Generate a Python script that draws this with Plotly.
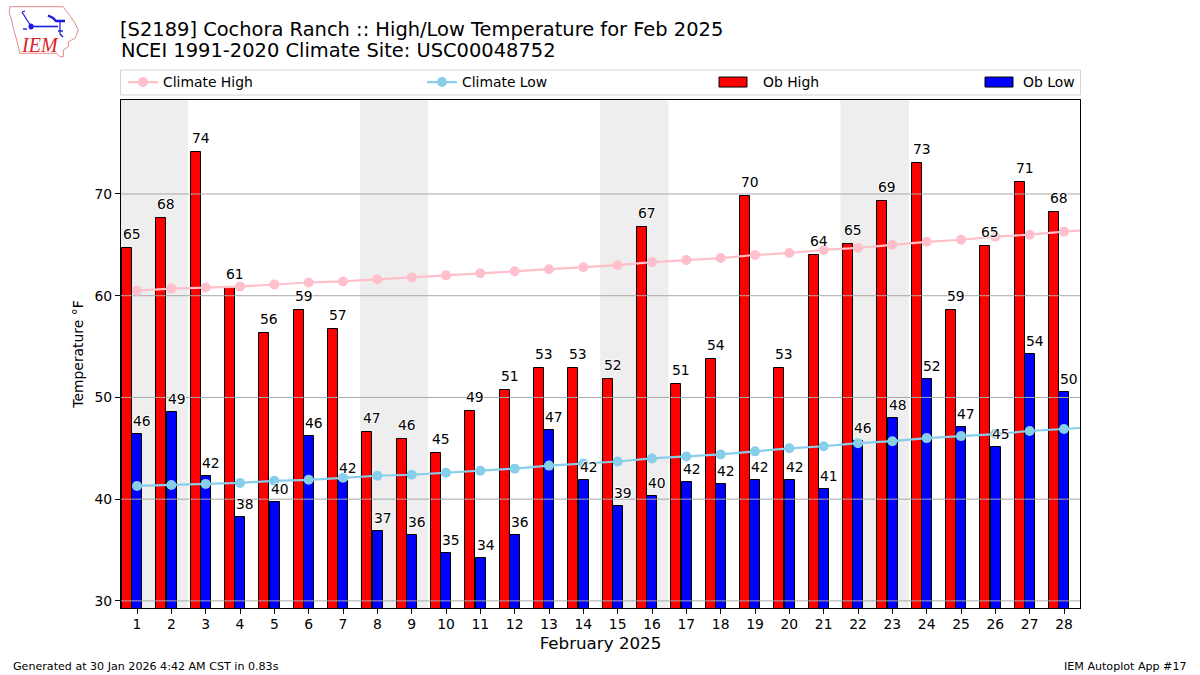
import plotly.graph_objects as go

days = list(range(1, 29))
climate_days = list(range(1, 30))
ob_high = [64.7, 67.6, 74.1, 60.8, 56.3, 58.6, 56.7, 46.6, 45.9, 44.5, 48.7, 50.7, 52.9, 52.9,
           51.8, 66.8, 51.3, 53.8, 69.8, 52.9, 64.0, 65.1, 69.3, 73.0, 58.6, 64.9, 71.2, 68.2]
ob_low = [46.4, 48.6, 42.3, 38.2, 39.7, 46.2, 41.8, 36.9, 36.5, 34.7, 34.2, 36.5, 46.8, 41.9,
          39.3, 40.3, 41.7, 41.5, 41.9, 41.9, 41.0, 45.7, 48.0, 51.8, 47.1, 45.1, 54.3, 50.5]
high_labels = [65, 68, 74, 61, 56, 59, 57, 47, 46, 45, 49, 51, 53, 53,
               52, 67, 51, 54, 70, 53, 64, 65, 69, 73, 59, 65, 71, 68]
low_labels = [46, 49, 42, 38, 40, 46, 42, 37, 36, 35, 34, 36, 47, 42,
              39, 40, 42, 42, 42, 42, 41, 46, 48, 52, 47, 45, 54, 50]
climate_high = [60.5, 60.7, 60.8, 60.9, 61.1, 61.3, 61.4, 61.6, 61.8, 62.0, 62.2, 62.4, 62.6, 62.8,
                63.0, 63.3, 63.5, 63.7, 64.0, 64.2, 64.5, 64.7, 65.0, 65.3, 65.5, 65.8, 66.0, 66.3, 66.5]
climate_low = [41.3, 41.4, 41.5, 41.6, 41.8, 41.9, 42.1, 42.3, 42.4, 42.6, 42.8, 43.0, 43.3, 43.5,
               43.7, 44.0, 44.2, 44.4, 44.7, 45.0, 45.2, 45.5, 45.7, 46.0, 46.2, 46.4, 46.7, 46.9, 47.1]
y_ticks = [30, 40, 50, 60, 70]
weekend_starts = [1, 8, 15, 22]

title_line1 = "[S2189] Cochora Ranch :: High/Low Temperature for Feb 2025"
title_line2 = "NCEI 1991-2020 Climate Site: USC00048752"
footer_left = "Generated at 30 Jan 2026 4:42 AM CST in 0.83s"
footer_right = "IEM Autoplot App #17"

FONT = "DejaVu Sans"
W, H = 1200, 675
L, R, T, B = 121, 1080, 100, 608
x_range = [0.534, 28.466]
y_range = [29.3, 79.24]


def px(x):
    return (x - L) / (R - L)


def py(y):
    return (B - y) / (B - T)


def path(points, close=False):
    s = "M" + " L".join(f"{px(a):.5f},{py(b):.5f}" for a, b in points)
    return s + (" Z" if close else "")


fig = go.Figure()
fig.add_bar(x=days, y=ob_high, width=0.295, offset=-0.44, name="Ob High", legend="legend3",
            marker=dict(color="#ff0000", line=dict(color="black", width=1)))
fig.add_bar(x=days, y=ob_low, width=0.295, offset=-0.14, name="Ob Low", legend="legend4",
            marker=dict(color="#0000ff", line=dict(color="black", width=1)))

# grid sits over the bars but under the climate lines
grid_x, grid_y = [], []
for t in y_ticks:
    grid_x += [x_range[0], x_range[1], None]
    grid_y += [t, t, None]
fig.add_scatter(x=grid_x, y=grid_y, mode="lines", line=dict(color="#a8a8a8", width=1),
                showlegend=False, hoverinfo="skip")

fig.add_scatter(x=climate_days, y=climate_high, mode="lines+markers", name="Climate High", legend="legend",
                line=dict(color="#ffc0cb", width=2.2), marker=dict(color="#ffc0cb", size=10))
fig.add_scatter(x=climate_days, y=climate_low, mode="lines+markers", name="Climate Low", legend="legend2",
                line=dict(color="#87ceeb", width=2.2), marker=dict(color="#87ceeb", size=10))

annotations = []
HALO = "1px 0 1px white, -1px 0 1px white, 0 1px 1px white, 0 -1px 1px white"
for d, v, t in zip(days, ob_high, high_labels):
    annotations.append(dict(x=d - 0.45, y=v, text=str(t), showarrow=False, xanchor="left", yanchor="bottom",
                            xshift=-0.6, yshift=4, font=dict(family=FONT, size=13.9, color="black", shadow=HALO)))
for d, v, t in zip(days, ob_low, low_labels):
    annotations.append(dict(x=d - 0.15, y=v, text=str(t), showarrow=False, xanchor="left", yanchor="bottom",
                            xshift=-0.6, yshift=3, font=dict(family=FONT, size=13.9, color="black", shadow=HALO)))


def text_px(x, y, text, size, anchor="left", **font):
    return dict(xref="paper", yref="paper", x=px(x), y=py(y), text=text, showarrow=False,
                xanchor=anchor, yanchor="middle", font=dict(family=font.pop("family", FONT), size=size,
                                                            color=font.pop("color", "black"), **font),
                xshift=0, yshift=0, borderpad=0)


annotations += [
    text_px(120, 50.5, title_line2, 19.44),
    text_px(11.5, 666.5, footer_left, 11.1),
    text_px(1188, 666.5, footer_right, 11.1, anchor="right"),
    text_px(20, 45.5, "<i>IEM</i>", 20, family="Liberation Serif", color="#d8232a"),
]

shapes = [dict(type="rect", xref="x", yref="paper", x0=d - 0.51, x1=d + 1.48, y0=0, y1=1,
               fillcolor="#eeeeee", line_width=0, layer="below") for d in weekend_starts]

# legend frame
shapes.append(dict(type="rect", xref="paper", yref="paper", x0=px(120.5), x1=px(1080.5), y0=py(95), y1=py(70),
                   line=dict(color="#d5d5d5", width=1), fillcolor="white"))

# IEM logo
iowa = [(9.7, 6.7), (63.3, 6.7), (66.7, 11.7), (70.7, 16.7), (75, 23.3), (78.3, 30), (75, 38.3), (68.3, 41.7),
        (68.3, 46.7), (63.3, 50), (63.3, 56.7), (60, 56.7), (56.7, 53.3), (20, 53.3), (16.7, 40), (13.3, 28.3),
        (11.7, 20), (9.3, 13.3)]
shapes.append(dict(type="path", xref="paper", yref="paper", path=path(iowa, True),
                   line=dict(color="#e58a8a", width=1), fillcolor="white"))
for seg, wid in (([(31, 26.5), (58, 26.5)], 1.6), ([(22, 12), (27, 20), (31, 26)], 1.2), ([(22, 12), (25, 11)], 1.2),
                 ([(48, 15.5), (53, 18), (56, 21), (65, 21)], 2.4), ([(60, 21), (60, 34)], 1.2),
                 ([(58, 31), (63, 31)], 1.4), ([(60, 34), (63, 37)], 1.4), ([(23, 29), (27, 29)], 1.4)):
    shapes.append(dict(type="path", xref="paper", yref="paper", path=path(seg),
                       line=dict(color="#1a1ae0", width=wid)))
shapes.append(dict(type="circle", xref="paper", yref="paper", x0=px(28.5), x1=px(33.5), y0=py(29.5), y1=py(23.5),
                   fillcolor="#1a1ae0", line_width=0))


def legend_at(x):
    return dict(x=px(x), y=py(82.5), xref="paper", yref="paper", xanchor="left", yanchor="middle",
                orientation="h", bgcolor="rgba(0,0,0,0)", borderwidth=0, itemwidth=30, itemclick=False,
                font=dict(family=FONT, size=13.9, color="black"))


fig.update_layout(
    width=W, height=H, margin=dict(l=L, r=W - R, t=T, b=H - B, pad=0),
    plot_bgcolor="white", paper_bgcolor="white", barmode="overlay", bargap=0,
    font=dict(family=FONT, size=13.9, color="black"),
    title=dict(text=title_line1, x=120 / W, xref="container", xanchor="left", y=1 - 29 / H, yanchor="middle",
               yref="container", font=dict(family=FONT, size=19.44, color="black")),
    xaxis=dict(range=x_range, tickmode="array", tickvals=days, ticktext=[str(d) for d in days], ticks="outside",
               ticklen=5, tickcolor="black", showline=True, mirror=True, linecolor="black", linewidth=1,
               showgrid=False, zeroline=False, tickfont=dict(size=13.9), ticklabelstandoff=-2,
               title=dict(text="February 2025", font=dict(size=16.7), standoff=6)),
    yaxis=dict(range=y_range, tickmode="array", tickvals=y_ticks, ticks="outside", ticklen=5, tickcolor="black",
               showline=True, mirror=True, linecolor="black", linewidth=1, showgrid=False, zeroline=False,
               tickfont=dict(size=13.9), title=dict(text="Temperature °F", font=dict(size=13.9), standoff=7)),
    legend=legend_at(123), legend2=legend_at(422), legend3=legend_at(723), legend4=legend_at(983),
    annotations=annotations, shapes=shapes, hovermode=False,
)

# widen the bar keys in the legends to the long flat swatch of the original
POST = """
document.body.style.margin='0';document.body.style.overflow='hidden';
function widenKeys(){
  document.querySelectorAll('.legendpoints path').forEach(function(el){
    var d = (el.getAttribute('d') || '');
    if (d.indexOf('M6,6') !== 0 && !el.dataset.wide) return;
    el.dataset.wide = '1';
    var red = (el.style.fill || '').indexOf('255, 0, 0') >= 0;
    el.setAttribute('d', red ? 'M4,5H-24V-5H4Z' : 'M10,5H-18V-5H10Z');
    var n = el;
    while (n && n.tagName !== 'svg') {
      if (n.removeAttribute) { n.removeAttribute('clip-path'); if (n.style) n.style.clipPath = ''; }
      n = n.parentNode;
    }
  });
}
widenKeys();
var gd = document.querySelector('.plotly-graph-div');
if (gd && gd.on) gd.on('plotly_afterplot', widenKeys);
[50, 200, 500, 1000].forEach(function(t){ setTimeout(widenKeys, t); });
"""
fig.write_html("out.html", config={"displayModeBar": False}, post_script=POST)
